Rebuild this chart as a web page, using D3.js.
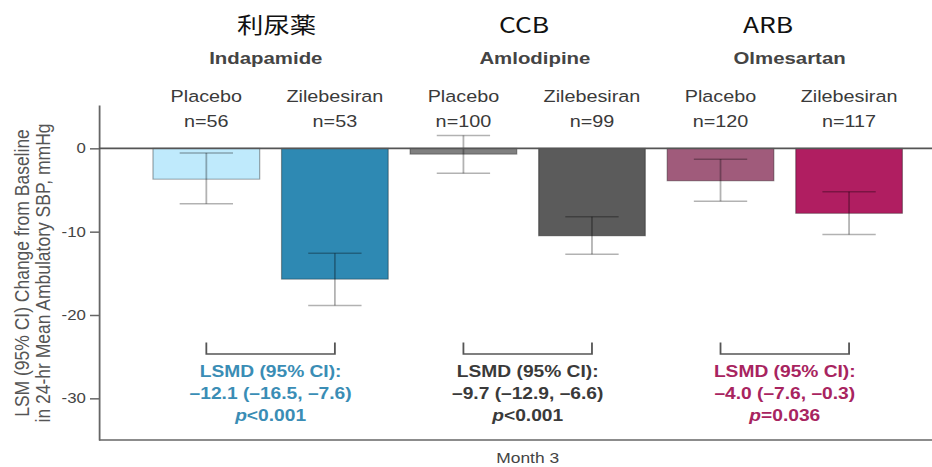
<!DOCTYPE html>
<meta charset="utf-8">
<style>
body { margin: 0; background: #fff; }
text { font-family: "Liberation Sans", Arial, sans-serif; }
.cls { font: 22px "Noto Sans CJK JP"; fill: #111; }
.drug { font-size: 17px; font-weight: bold; fill: #444; }
.arm { font-size: 16.5px; fill: #3a3a3a; }
.tick text { font-size: 14px; fill: #444; }
.ylab { font-size: 17.5px; fill: #555; }
.lsmd { font-size: 16px; font-weight: bold; }
</style>
<body>
<script src="https://d3js.org/d3.v7.min.js"></script>
<script>

const classes = ["利尿薬", "CCB", "ARB"];
const drugs = ["Indapamide", "Amlodipine", "Olmesartan"];
const arms = ["Placebo", "Zilebesiran"];
const nCounts = [56, 53, 100, 99, 120, 117];
const lsm = [-3.7, -15.7, -0.7, -10.5, -3.9, -7.8];
const ciLow = [-6.65, -18.85, -3.0, -12.7, -6.35, -10.35];
const ciHigh = [-0.55, -12.6, 1.55, -8.2, -1.3, -5.2];
const lsmd = ["–12.1 (–16.5, –7.6)", "–9.7 (–12.9, –6.6)", "–4.0 (–7.6, –0.3)"];
const pValues = ["<0.001", "<0.001", "=0.036"];
const yTicks = [0, -10, -20, -30];

const barColors = ["#bfeafc", "#2e89b3", "#808080", "#5b5b5b", "#a05b7b", "#b01e61"];
const lsmdColors = ["#3a8db5", "#3a3a3a", "#a8245f"];

// the reference is stretched horizontally ~1.2x, so draw in a narrower viewBox
let W = 932, H = 467, sx = 1.2,
    vw = W / sx;

// hand placed header nudges (viewBox units)
let classDx = [5, -3, -14],
    drugDx = [-4, 6, 4];

let svg = d3.select("body").append("svg")
    .attr("width", W)
    .attr("height", H)
    .attr("viewBox", `0 0 ${vw} ${H}`)
    .attr("preserveAspectRatio", "none");

let bars = [];
drugs.forEach((d, gi) => arms.forEach((a, ai) => {
    let i = gi * 2 + ai;
    bars.push({key: d + "|" + a, group: gi, arm: a, n: nCounts[i], v: lsm[i], lo: ciLow[i], hi: ciHigh[i], color: barColors[i]});
}));

let x = d3.scaleBand()
    .domain(bars.map(b => b.key))
    .range([82.5, 797])
    .paddingInner(0.17)
    .paddingOuter(0.42);

let y = d3.scaleLinear()
    .domain([-35, 5.2])
    .range([440, 105]);

let cx = b => x(b.key) + x.bandwidth() / 2;
let groupCenter = gi => (cx(bars[gi * 2]) + cx(bars[gi * 2 + 1])) / 2;

// bars
svg.append("g")
  .selectAll("rect")
  .data(bars)
  .join("rect")
    .attr("x", b => x(b.key))
    .attr("y", y(0))
    .attr("width", x.bandwidth())
    .attr("height", b => y(b.v) - y(0))
    .attr("fill", b => b.color)
    .attr("stroke", "rgba(0,0,0,0.35)")
    .attr("stroke-width", 1);

// error bars
let eb = svg.append("g")
    .attr("stroke", "#000")
    .attr("stroke-opacity", 0.3)
    .attr("stroke-width", 1.5);
let capW = x.bandwidth() * 0.25;
bars.forEach(b => {
    eb.append("line").attr("x1", cx(b)).attr("x2", cx(b)).attr("y1", y(b.hi)).attr("y2", y(b.lo));
    eb.append("line").attr("x1", cx(b) - capW).attr("x2", cx(b) + capW).attr("y1", y(b.hi)).attr("y2", y(b.hi));
    eb.append("line").attr("x1", cx(b) - capW).attr("x2", cx(b) + capW).attr("y1", y(b.lo)).attr("y2", y(b.lo));
});

// y axis
let yAxis = svg.append("g")
    .attr("transform", "translate(82.5,0)")
    .call(d3.axisLeft(y).tickValues(yTicks).tickSize(7.5).tickPadding(3.5).tickSizeOuter(0).tickFormat(d => String(d)));
yAxis.selectAll("path, line").attr("stroke", "#666").attr("stroke-width", 1.5);
yAxis.selectAll("text").attr("font-family", null).attr("font-size", null);

// zero line and bottom line
svg.append("line")
    .attr("x1", 82.5).attr("x2", vw)
    .attr("y1", y(0)).attr("y2", y(0))
    .attr("stroke", "#555").attr("stroke-width", 1.6);
svg.append("line")
    .attr("x1", 82.5).attr("x2", vw)
    .attr("y1", y(-35)).attr("y2", y(-35))
    .attr("stroke", "#666").attr("stroke-width", 1.5);

// y label
let yl = svg.append("text")
    .attr("class", "ylab")
    .attr("text-anchor", "middle")
    .attr("transform", "translate(0,273) rotate(-90)");
yl.append("tspan").attr("x", 0).attr("y", 24.5).text("LSM (95% CI) Change from Baseline");
yl.append("tspan").attr("x", 0).attr("y", 42).text("in 24-hr Mean Ambulatory SBP, mmHg");

// headers
drugs.forEach((d, gi) => {
    svg.append("text").attr("class", "cls").attr("text-anchor", "middle")
        .attr("x", groupCenter(gi) + classDx[gi]).attr("y", 33).text(classes[gi]);
    svg.append("text").attr("class", "drug").attr("text-anchor", "middle")
        .attr("x", groupCenter(gi) + drugDx[gi]).attr("y", 64).text(d);
});

svg.append("g")
  .selectAll("text")
  .data(bars)
  .join("text")
    .attr("class", "arm")
    .attr("text-anchor", "middle")
    .attr("x", cx)
    .attr("y", 102)
    .call(t => t.append("tspan").attr("x", cx).attr("y", 102).text(b => b.arm))
    .call(t => t.append("tspan").attr("x", cx).attr("y", 127).text(b => "n=" + b.n));

// brackets and LSMD annotations
drugs.forEach((d, gi) => {
    let x1 = cx(bars[gi * 2]), x2 = cx(bars[gi * 2 + 1]);
    svg.append("path")
        .attr("d", `M${x1},342.5V354H${x2}V342.5`)
        .attr("fill", "none")
        .attr("stroke", "#555")
        .attr("stroke-width", 1.5);
    let t = svg.append("text").attr("class", "lsmd")
        .attr("text-anchor", "middle")
        .attr("fill", lsmdColors[gi]);
    t.append("tspan").attr("x", groupCenter(gi)).attr("y", 377).text("LSMD (95% CI):");
    t.append("tspan").attr("x", groupCenter(gi)).attr("y", 399).text(lsmd[gi]);
    let p = t.append("tspan").attr("x", groupCenter(gi)).attr("y", 421);
    p.append("tspan").attr("font-style", "italic").text("p");
    p.append("tspan").text(pValues[gi]);
});

svg.append("text")
    .attr("text-anchor", "middle")
    .attr("x", groupCenter(1))
    .attr("y", 463)
    .attr("font-size", 14.5)
    .attr("fill", "#444")
    .text("Month 3");

</script>
